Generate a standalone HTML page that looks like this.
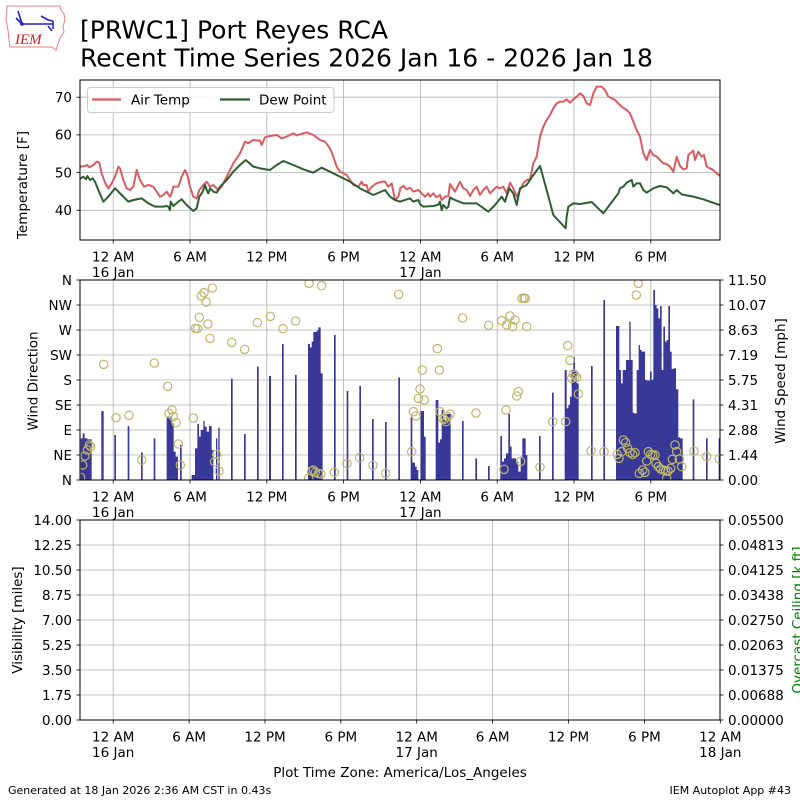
<!DOCTYPE html>
<html><head><meta charset="utf-8"><style>
html,body{margin:0;padding:0;background:#fff;}
svg{display:block;font-family:"DejaVu Sans","Liberation Sans",sans-serif;}
</style></head><body>
<svg width="800" height="800" viewBox="0 0 800 800" xmlns="http://www.w3.org/2000/svg">
<defs>
<clipPath id="c1"><rect x="80" y="80" width="640" height="160"/></clipPath>
<clipPath id="c2"><rect x="80" y="280" width="640" height="200"/></clipPath>
</defs>
<rect width="800" height="800" fill="#fff"/>

<!-- Logo -->
<g>
<path d="M7,6 L60,6 L61,10 L64,14 L65,20 L63,26 L64,32 L60,38 L58,44 L56,50 L52,47 L10,47 L9,40 L8,30 L6,20 Z" fill="#fff" stroke="#e08080" stroke-width="1"/>
<path d="M22,24 L53,24 M18,11 L22,24 M16,18 L22,24 M41,16 L48,20 L53,21 M53,21 L53,29 M48,26 L52,31" stroke="#2020c0" stroke-width="1.6" fill="none"/>
<circle cx="22" cy="24" r="1.8" fill="#2020c0"/>
<text x="15" y="44" font-family="Liberation Serif,serif" font-style="italic" font-size="15" fill="#d02020">IEM</text>
</g>

<!-- Title -->
<text x="80" y="38.5" font-size="25" fill="#000">[PRWC1] Port Reyes RCA</text>
<text x="80" y="66.5" font-size="25" fill="#000">Recent Time Series 2026 Jan 16 - 2026 Jan 18</text>

<!-- ===== Panel 1 ===== -->
<g stroke="#b0b0b0" stroke-width="0.8">
<line x1="113.2" y1="80" x2="113.2" y2="240"/><line x1="190" y1="80" x2="190" y2="240"/>
<line x1="266.8" y1="80" x2="266.8" y2="240"/><line x1="343.6" y1="80" x2="343.6" y2="240"/>
<line x1="420.4" y1="80" x2="420.4" y2="240"/><line x1="497.2" y1="80" x2="497.2" y2="240"/>
<line x1="574" y1="80" x2="574" y2="240"/><line x1="650.8" y1="80" x2="650.8" y2="240"/>
<line x1="80" y1="97.2" x2="720" y2="97.2"/><line x1="80" y1="134.9" x2="720" y2="134.9"/>
<line x1="80" y1="172.6" x2="720" y2="172.6"/><line x1="80" y1="210.3" x2="720" y2="210.3"/>
</g>
<g clip-path="url(#c1)" fill="none" stroke-linejoin="round" stroke-linecap="round">
<g transform="scale(0.333333)" stroke-width="6">
<polyline stroke="#d95c62" points="242,500 255,498 262,495 268,502 280,495 290,485 298,488 305,520 315,548 325,565 335,550 345,530 355,500 360,505 370,540 380,565 390,570 400,560 410,510 420,540 432,560 445,555 460,560 470,575 480,590 490,585 500,575 510,590 515,580 520,560 535,560 545,530 555,510 562,525 570,560 580,590 590,595 598,570 610,555 620,545 630,560 640,555 655,570 665,560 680,530 700,490 720,460 735,425 745,430 760,420 780,422 785,435 795,412 810,408 830,405 845,415 860,410 880,400 890,406 900,403 920,397 940,405 960,420 975,425 990,445 1000,470 1010,500 1020,515 1040,525 1050,540 1060,555 1075,560 1085,545 1090,555 1100,555 1105,575 1115,560 1130,550 1145,545 1155,545 1165,560 1175,550 1185,600 1195,590 1200,570"/>
<polyline stroke="#2e5e30" points="242,535 250,530 258,538 262,528 270,540 278,535 285,545 295,570 310,605 325,590 345,565 365,585 385,605 400,600 425,595 445,610 465,620 490,620 500,618 505,620 510,630 512,605 520,618 535,605 545,598 560,615 580,633 590,625 598,590 608,575 615,555 620,570 625,580 630,565 640,575 650,578 660,560 680,540 700,515 720,495 737,480 760,500 780,505 810,510 830,495 850,483 880,495 910,508 940,518 965,503 990,515 1020,530 1050,545 1080,565 1110,580 1120,585 1155,570 1170,590 1185,600 1200,605"/>
</g>
<g transform="translate(400,60) scale(0.333333)" stroke-width="6">
<polyline stroke="#d95c62" points="0,385 10,378 20,388 30,383 40,395 55,390 65,400 75,410 85,400 90,410 100,400 110,412 120,405 125,420 135,410 145,408 150,372 158,385 165,395 175,375 180,365 190,385 200,390 210,408 220,390 230,380 240,405 250,390 260,380 270,400 280,390 290,380 300,385 310,380 320,400 330,368 340,385 350,410 360,390 370,370 380,360 390,358 400,310 410,290 420,230 430,200 440,180 450,165 460,145 470,130 480,125 490,125 500,118 510,128 520,118 530,110 540,100 550,108 560,130 570,135 580,100 590,80 605,80 615,90 625,110 635,115 645,120 655,130 665,140 680,150 690,160 700,185 710,210 720,230 730,280 740,300 750,270 760,285 770,290 780,300 790,310 800,312 810,320 820,335 830,290 840,318 850,328 860,325 865,285 880,272 885,300 895,275 905,290 912,285 920,320 930,325 940,330 950,340 960,348"/>
<polyline stroke="#2e5e30" points="0,425 30,415 40,425 55,420 60,432 70,440 100,438 115,434 120,425 125,450 130,435 140,445 145,440 150,412 160,418 190,430 230,430 265,455 285,435 305,410 315,425 328,385 340,400 350,435 360,385 370,380 380,375 395,352 420,318 440,390 460,465 497,505 500,470 505,440 520,430 540,432 575,426 610,460 640,420 655,400 660,385 670,380 680,368 695,360 700,380 710,370 720,370 730,390 740,398 760,385 780,378 800,382 815,395 820,400 830,390 845,403 880,410 910,418 930,425 960,435"/>
</g>
</g>
<rect x="80" y="80" width="640" height="160" fill="none" stroke="#000" stroke-width="1"/>
<!-- legend -->
<rect x="87.5" y="87.5" width="246.5" height="25" rx="3" fill="#fff" fill-opacity="0.8" stroke="#cccccc" stroke-width="1"/>
<line x1="92" y1="99.5" x2="121" y2="99.5" stroke="#d95c62" stroke-width="2.2"/>
<text x="131" y="104.5" font-size="13.5">Air Temp</text>
<line x1="220" y1="99.5" x2="250" y2="99.5" stroke="#2e5e30" stroke-width="2.2"/>
<text x="259" y="104.5" font-size="13.5">Dew Point</text>
<!-- y ticks -->
<g stroke="#000" stroke-width="0.8">
<line x1="76.5" y1="97.2" x2="80" y2="97.2"/><line x1="76.5" y1="134.9" x2="80" y2="134.9"/>
<line x1="76.5" y1="172.6" x2="80" y2="172.6"/><line x1="76.5" y1="210.3" x2="80" y2="210.3"/>
<line x1="113.2" y1="240" x2="113.2" y2="243.5"/><line x1="190" y1="240" x2="190" y2="243.5"/>
<line x1="266.8" y1="240" x2="266.8" y2="243.5"/><line x1="343.6" y1="240" x2="343.6" y2="243.5"/>
<line x1="420.4" y1="240" x2="420.4" y2="243.5"/><line x1="497.2" y1="240" x2="497.2" y2="243.5"/>
<line x1="574" y1="240" x2="574" y2="243.5"/><line x1="650.8" y1="240" x2="650.8" y2="243.5"/>
</g>
<g font-size="13.5" text-anchor="end">
<text x="72" y="102">70</text><text x="72" y="139.7">60</text><text x="72" y="177.4">50</text><text x="72" y="215.1">40</text>
</g>
<g font-size="13.5" text-anchor="middle">
<text x="113.2" y="261.6">12 AM</text><text x="113.2" y="277.2">16 Jan</text>
<text x="190" y="261.6">6 AM</text><text x="266.8" y="261.6">12 PM</text><text x="343.6" y="261.6">6 PM</text>
<text x="420.4" y="261.6">12 AM</text><text x="420.4" y="277.2">17 Jan</text>
<text x="497.2" y="261.6">6 AM</text><text x="574" y="261.6">12 PM</text><text x="650.8" y="261.6">6 PM</text>
</g>
<text transform="translate(27,185) rotate(-90)" font-size="13.5" text-anchor="middle">Temperature [F]</text>

<!-- ===== Panel 2 ===== -->
<g stroke="#b0b0b0" stroke-width="0.8">
<line x1="113.2" y1="280" x2="113.2" y2="480"/><line x1="190" y1="280" x2="190" y2="480"/>
<line x1="266.8" y1="280" x2="266.8" y2="480"/><line x1="343.6" y1="280" x2="343.6" y2="480"/>
<line x1="420.4" y1="280" x2="420.4" y2="480"/><line x1="497.2" y1="280" x2="497.2" y2="480"/>
<line x1="574" y1="280" x2="574" y2="480"/><line x1="650.8" y1="280" x2="650.8" y2="480"/>
<line x1="80" y1="305" x2="720" y2="305"/><line x1="80" y1="330" x2="720" y2="330"/>
<line x1="80" y1="355" x2="720" y2="355"/><line x1="80" y1="380" x2="720" y2="380"/>
<line x1="80" y1="405" x2="720" y2="405"/><line x1="80" y1="430" x2="720" y2="430"/>
<line x1="80" y1="455" x2="720" y2="455"/>
</g>
<g clip-path="url(#c2)">
<g transform="translate(0,270) scale(0.333333)" fill="#383898">
<path d="M242,630V505H248V490H254V505H262V508H275V630Z M304,630V423H311V630Z M343,630V495H348V630Z M383,630V468H388V630Z M423,630V547H428V630Z M461,630V505H466V630Z M500,630V440H515V460H521V545H527V560H534V630Z M540,630V525H545V630Z M575,630V615H585V535H592V462H597V500H602V480H610V453H614V470H620V485H627V468H635V540H640V630Z M648,630V505H652V630Z M655,630V473H659V630Z M693,630V326H698V630Z M732,630V492H737V630Z M771,630V290H776V630Z M807,630V318H813V630Z M846,630V222H851V630Z M885,630V315H890V630Z M924,630V222H930V232H935V215H940V186H950V182H955V172H962V310H968V630Z M1002,630V195H1007V630Z M1040,630V363H1045V630Z M1078,630V348H1083V630Z M1116,630V447H1121V630Z M1155,630V456H1160V630Z M1195,630V322H1200V630Z"/>
</g>
<g transform="translate(400,270) scale(0.333333)" fill="#383898">
<path d="M32,630V440H37V578H45V590H50V600H55V630Z M62,630V423H72V500H77V630Z M107,630V390H115V518H120V508H125V420H130V450H140V432H152V630Z M186,630V453H191V630Z M226,630V565H231V630Z M264,630V588H269V630Z M301,630V498H306V575H312V565H318V550H325V432H330V530H335V565H348V575H355V605H362V560H367V505H377V555H382V630Z M417,630V498H422V630Z M456,630V368H461V630Z M494,630V300H500V415H505V405H510V380H515V300H520V262H525V300H530V340H536V630Z M573,630V288H578V630Z M610,630V90H615V630Z M648,630V168H658V300H663V340H668V300H678V270H688V155H692V270H698V428H702V430H710V300H716V225H720V240H725V245H735V330H740V332H750V305H755V330H760V60H765V105H770V115H775V145H780V108H785V300H790V170H795V215H800V210H805V108H810V245H815V297H820V295H828V358H835V502H840V505H848V630Z M878,630V388H883V630Z M918,630V505H923V630Z M956,630V505H961V630Z"/>
</g>
<g fill="none" stroke="#bdb76b" stroke-width="3.6">
<g transform="translate(0,270) scale(0.333333)">
<circle cx="242" cy="622" r="12.5"/><circle cx="248" cy="585" r="12.5"/><circle cx="255" cy="558" r="12.5"/><circle cx="262" cy="540" r="12.5"/><circle cx="268" cy="525" r="12.5"/><circle cx="272" cy="530" r="12.5"/><circle cx="311" cy="283" r="12.5"/><circle cx="348" cy="443" r="12.5"/><circle cx="387" cy="436" r="12.5"/><circle cx="425" cy="570" r="12.5"/><circle cx="463" cy="279" r="12.5"/><circle cx="503" cy="349" r="12.5"/><circle cx="507" cy="430" r="12.5"/><circle cx="516" cy="420" r="12.5"/><circle cx="520" cy="440" r="12.5"/><circle cx="528" cy="458" r="12.5"/><circle cx="535" cy="522" r="12.5"/><circle cx="541" cy="585" r="12.5"/><circle cx="580" cy="444" r="12.5"/><circle cx="586" cy="175" r="12.5"/><circle cx="592" cy="176" r="12.5"/><circle cx="598" cy="142" r="12.5"/><circle cx="604" cy="78" r="12.5"/><circle cx="612" cy="68" r="12.5"/><circle cx="618" cy="96" r="12.5"/><circle cx="624" cy="162" r="12.5"/><circle cx="630" cy="205" r="12.5"/><circle cx="637" cy="54" r="12.5"/><circle cx="644" cy="575" r="12.5"/><circle cx="650" cy="553" r="12.5"/><circle cx="657" cy="603" r="12.5"/><circle cx="695" cy="217" r="12.5"/><circle cx="734" cy="238" r="12.5"/><circle cx="772" cy="158" r="12.5"/><circle cx="811" cy="139" r="12.5"/><circle cx="849" cy="176" r="12.5"/><circle cx="887" cy="153" r="12.5"/><circle cx="927" cy="40" r="12.5"/><circle cx="965" cy="47" r="12.5"/><circle cx="926" cy="625" r="12.5"/><circle cx="935" cy="603" r="12.5"/><circle cx="940" cy="600" r="12.5"/><circle cx="946" cy="607" r="12.5"/><circle cx="955" cy="610" r="12.5"/><circle cx="963" cy="612" r="12.5"/><circle cx="1003" cy="607" r="12.5"/><circle cx="1041" cy="581" r="12.5"/><circle cx="1079" cy="563" r="12.5"/><circle cx="1119" cy="586" r="12.5"/><circle cx="1157" cy="610" r="12.5"/><circle cx="1196" cy="73" r="12.5"/>
</g>
<g transform="translate(400,270) scale(0.333333)">
<circle cx="35" cy="545" r="12.5"/><circle cx="40" cy="425" r="12.5"/><circle cx="48" cy="438" r="12.5"/><circle cx="55" cy="385" r="12.5"/><circle cx="60" cy="357" r="12.5"/><circle cx="67" cy="300" r="12.5"/><circle cx="73" cy="390" r="12.5"/><circle cx="112" cy="236" r="12.5"/><circle cx="118" cy="300" r="12.5"/><circle cx="120" cy="425" r="12.5"/><circle cx="128" cy="445" r="12.5"/><circle cx="133" cy="448" r="12.5"/><circle cx="138" cy="455" r="12.5"/><circle cx="143" cy="440" r="12.5"/><circle cx="150" cy="432" r="12.5"/><circle cx="188" cy="144" r="12.5"/><circle cx="228" cy="429" r="12.5"/><circle cx="266" cy="166" r="12.5"/><circle cx="305" cy="152" r="12.5"/><circle cx="312" cy="598" r="12.5"/><circle cx="320" cy="165" r="12.5"/><circle cx="330" cy="138" r="12.5"/><circle cx="338" cy="170" r="12.5"/><circle cx="345" cy="150" r="12.5"/><circle cx="318" cy="420" r="12.5"/><circle cx="350" cy="378" r="12.5"/><circle cx="355" cy="365" r="12.5"/><circle cx="362" cy="574" r="12.5"/><circle cx="366" cy="85" r="12.5"/><circle cx="372" cy="84" r="12.5"/><circle cx="376" cy="85" r="12.5"/><circle cx="380" cy="170" r="12.5"/><circle cx="420" cy="591" r="12.5"/><circle cx="458" cy="455" r="12.5"/><circle cx="497" cy="455" r="12.5"/><circle cx="503" cy="227" r="12.5"/><circle cx="510" cy="271" r="12.5"/><circle cx="515" cy="325" r="12.5"/><circle cx="520" cy="312" r="12.5"/><circle cx="525" cy="316" r="12.5"/><circle cx="530" cy="322" r="12.5"/><circle cx="535" cy="372" r="12.5"/><circle cx="573" cy="543" r="12.5"/><circle cx="612" cy="545" r="12.5"/><circle cx="652" cy="553" r="12.5"/><circle cx="657" cy="565" r="12.5"/><circle cx="665" cy="545" r="12.5"/><circle cx="670" cy="510" r="12.5"/><circle cx="677" cy="518" r="12.5"/><circle cx="683" cy="535" r="12.5"/><circle cx="690" cy="548" r="12.5"/><circle cx="698" cy="553" r="12.5"/><circle cx="705" cy="548" r="12.5"/><circle cx="718" cy="610" r="12.5"/><circle cx="728" cy="600" r="12.5"/><circle cx="735" cy="607" r="12.5"/><circle cx="740" cy="573" r="12.5"/><circle cx="745" cy="545" r="12.5"/><circle cx="752" cy="553" r="12.5"/><circle cx="758" cy="555" r="12.5"/><circle cx="765" cy="555" r="12.5"/><circle cx="768" cy="580" r="12.5"/><circle cx="775" cy="590" r="12.5"/><circle cx="782" cy="597" r="12.5"/><circle cx="790" cy="600" r="12.5"/><circle cx="797" cy="603" r="12.5"/><circle cx="804" cy="603" r="12.5"/><circle cx="800" cy="625" r="12.5"/><circle cx="812" cy="595" r="12.5"/><circle cx="817" cy="568" r="12.5"/><circle cx="825" cy="525" r="12.5"/><circle cx="830" cy="545" r="12.5"/><circle cx="838" cy="567" r="12.5"/><circle cx="845" cy="590" r="12.5"/><circle cx="709" cy="75" r="12.5"/><circle cx="715" cy="40" r="12.5"/><circle cx="882" cy="543" r="12.5"/><circle cx="920" cy="560" r="12.5"/><circle cx="958" cy="567" r="12.5"/>
</g>
</g>
</g>
<rect x="80" y="280" width="640" height="200" fill="none" stroke="#000" stroke-width="1"/>
<g stroke="#000" stroke-width="0.8">
<line x1="76.5" y1="280" x2="80" y2="280"/><line x1="76.5" y1="305" x2="80" y2="305"/><line x1="76.5" y1="330" x2="80" y2="330"/><line x1="76.5" y1="355" x2="80" y2="355"/><line x1="76.5" y1="380" x2="80" y2="380"/><line x1="76.5" y1="405" x2="80" y2="405"/><line x1="76.5" y1="430" x2="80" y2="430"/><line x1="76.5" y1="455" x2="80" y2="455"/><line x1="76.5" y1="480" x2="80" y2="480"/>
<line x1="720" y1="280" x2="723.5" y2="280"/><line x1="720" y1="305" x2="723.5" y2="305"/><line x1="720" y1="330" x2="723.5" y2="330"/><line x1="720" y1="355" x2="723.5" y2="355"/><line x1="720" y1="380" x2="723.5" y2="380"/><line x1="720" y1="405" x2="723.5" y2="405"/><line x1="720" y1="430" x2="723.5" y2="430"/><line x1="720" y1="455" x2="723.5" y2="455"/><line x1="720" y1="480" x2="723.5" y2="480"/>
<line x1="113.2" y1="480" x2="113.2" y2="483.5"/><line x1="190" y1="480" x2="190" y2="483.5"/>
<line x1="266.8" y1="480" x2="266.8" y2="483.5"/><line x1="343.6" y1="480" x2="343.6" y2="483.5"/>
<line x1="420.4" y1="480" x2="420.4" y2="483.5"/><line x1="497.2" y1="480" x2="497.2" y2="483.5"/>
<line x1="574" y1="480" x2="574" y2="483.5"/><line x1="650.8" y1="480" x2="650.8" y2="483.5"/>
</g>
<g font-size="13.5" text-anchor="end">
<text x="72" y="284.8">N</text><text x="72" y="309.8">NW</text><text x="72" y="334.8">W</text><text x="72" y="359.8">SW</text><text x="72" y="384.8">S</text><text x="72" y="409.8">SE</text><text x="72" y="434.8">E</text><text x="72" y="459.8">NE</text><text x="72" y="484.8">N</text>
</g>
<g font-size="13.5">
<text x="728" y="284.8">11.50</text><text x="728" y="309.8">10.07</text><text x="728" y="334.8">8.63</text><text x="728" y="359.8">7.19</text><text x="728" y="384.8">5.75</text><text x="728" y="409.8">4.31</text><text x="728" y="434.8">2.88</text><text x="728" y="459.8">1.44</text><text x="728" y="484.8">0.00</text>
</g>
<g font-size="13.5" text-anchor="middle">
<text x="113.2" y="501.6">12 AM</text><text x="113.2" y="517.2">16 Jan</text>
<text x="190" y="501.6">6 AM</text><text x="266.8" y="501.6">12 PM</text><text x="343.6" y="501.6">6 PM</text>
<text x="420.4" y="501.6">12 AM</text><text x="420.4" y="517.2">17 Jan</text>
<text x="497.2" y="501.6">6 AM</text><text x="574" y="501.6">12 PM</text><text x="650.8" y="501.6">6 PM</text>
</g>
<text transform="translate(37.5,381) rotate(-90)" font-size="13.5" text-anchor="middle">Wind Direction</text>
<text transform="translate(785,381) rotate(-90)" font-size="13.5" text-anchor="middle">Wind Speed [mph]</text>

<!-- ===== Panel 3 ===== -->
<g stroke="#b0b0b0" stroke-width="0.8">
<line x1="113.2" y1="520" x2="113.2" y2="720"/><line x1="189.1" y1="520" x2="189.1" y2="720"/>
<line x1="265" y1="520" x2="265" y2="720"/><line x1="340.8" y1="520" x2="340.8" y2="720"/>
<line x1="416.7" y1="520" x2="416.7" y2="720"/><line x1="492.6" y1="520" x2="492.6" y2="720"/>
<line x1="568.5" y1="520" x2="568.5" y2="720"/><line x1="644.4" y1="520" x2="644.4" y2="720"/>
<line x1="80" y1="545" x2="720" y2="545"/><line x1="80" y1="570" x2="720" y2="570"/>
<line x1="80" y1="595" x2="720" y2="595"/><line x1="80" y1="620" x2="720" y2="620"/>
<line x1="80" y1="645" x2="720" y2="645"/><line x1="80" y1="670" x2="720" y2="670"/>
<line x1="80" y1="695" x2="720" y2="695"/>
</g>
<rect x="80" y="520" width="640" height="200" fill="none" stroke="#000" stroke-width="1"/>
<g stroke="#000" stroke-width="0.8">
<line x1="76.5" y1="520" x2="80" y2="520"/><line x1="76.5" y1="545" x2="80" y2="545"/><line x1="76.5" y1="570" x2="80" y2="570"/><line x1="76.5" y1="595" x2="80" y2="595"/><line x1="76.5" y1="620" x2="80" y2="620"/><line x1="76.5" y1="645" x2="80" y2="645"/><line x1="76.5" y1="670" x2="80" y2="670"/><line x1="76.5" y1="695" x2="80" y2="695"/><line x1="76.5" y1="720" x2="80" y2="720"/>
<line x1="720" y1="520" x2="723.5" y2="520"/><line x1="720" y1="545" x2="723.5" y2="545"/><line x1="720" y1="570" x2="723.5" y2="570"/><line x1="720" y1="595" x2="723.5" y2="595"/><line x1="720" y1="620" x2="723.5" y2="620"/><line x1="720" y1="645" x2="723.5" y2="645"/><line x1="720" y1="670" x2="723.5" y2="670"/><line x1="720" y1="695" x2="723.5" y2="695"/><line x1="720" y1="720" x2="723.5" y2="720"/>
<line x1="113.2" y1="720" x2="113.2" y2="723.5"/><line x1="189.1" y1="720" x2="189.1" y2="723.5"/>
<line x1="265" y1="720" x2="265" y2="723.5"/><line x1="340.8" y1="720" x2="340.8" y2="723.5"/>
<line x1="416.7" y1="720" x2="416.7" y2="723.5"/><line x1="492.6" y1="720" x2="492.6" y2="723.5"/>
<line x1="568.5" y1="720" x2="568.5" y2="723.5"/><line x1="644.4" y1="720" x2="644.4" y2="723.5"/>
<line x1="720.3" y1="720" x2="720.3" y2="723.5"/>
</g>
<g font-size="13.5" text-anchor="end">
<text x="72" y="524.8">14.00</text><text x="72" y="549.8">12.25</text><text x="72" y="574.8">10.50</text><text x="72" y="599.8">8.75</text><text x="72" y="624.8">7.00</text><text x="72" y="649.8">5.25</text><text x="72" y="674.8">3.50</text><text x="72" y="699.8">1.75</text><text x="72" y="724.8">0.00</text>
</g>
<g font-size="13.5">
<text x="728" y="524.8">0.05500</text><text x="728" y="549.8">0.04813</text><text x="728" y="574.8">0.04125</text><text x="728" y="599.8">0.03438</text><text x="728" y="624.8">0.02750</text><text x="728" y="649.8">0.02063</text><text x="728" y="674.8">0.01375</text><text x="728" y="699.8">0.00688</text><text x="728" y="724.8">0.00000</text>
</g>
<g font-size="13.5" text-anchor="middle">
<text x="113.2" y="741.6">12 AM</text><text x="113.2" y="757.2">16 Jan</text>
<text x="189.1" y="741.6">6 AM</text><text x="265" y="741.6">12 PM</text><text x="340.8" y="741.6">6 PM</text>
<text x="416.7" y="741.6">12 AM</text><text x="416.7" y="757.2">17 Jan</text>
<text x="492.6" y="741.6">6 AM</text><text x="568.5" y="741.6">12 PM</text><text x="644.4" y="741.6">6 PM</text>
<text x="720.3" y="741.6">12 AM</text><text x="720.3" y="757.2">18 Jan</text>
</g>
<text transform="translate(22,620) rotate(-90)" font-size="13.5" text-anchor="middle">Visibility [miles]</text>
<text transform="translate(802,620) rotate(-90)" font-size="13.5" text-anchor="middle" fill="#008000">Overcast Ceiling [k ft]</text>
<text x="400" y="777.2" font-size="13.5" text-anchor="middle">Plot Time Zone: America/Los_Angeles</text>

<!-- Footer -->
<text x="8" y="794" font-size="11">Generated at 18 Jan 2026 2:36 AM CST in 0.43s</text>
<text x="791" y="794" font-size="11" text-anchor="end">IEM Autoplot App #43</text>
</svg>
</body></html>
